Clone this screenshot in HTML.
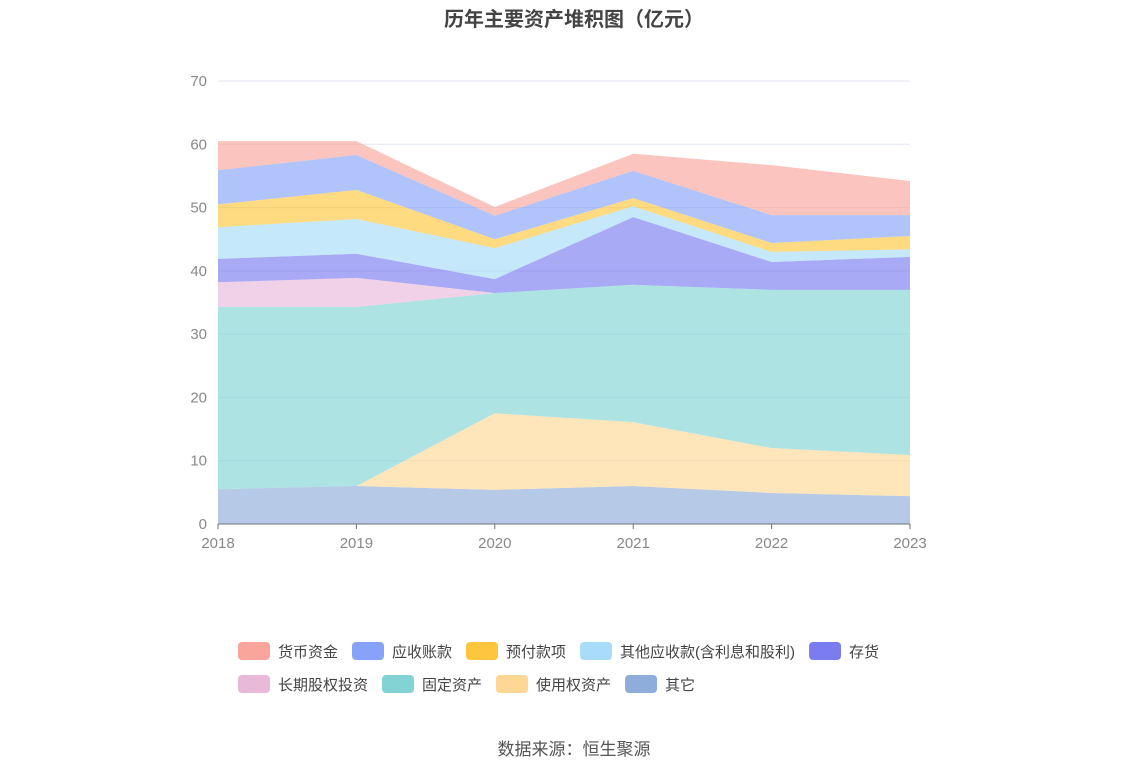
<!DOCTYPE html>
<html><head><meta charset="utf-8"><style>
body{margin:0;background:#fff;font-family:"Liberation Sans","Noto Sans CJK SC",sans-serif;}
</style></head><body>
<svg width="1148" height="776" id="svg" style="display:block">
<text x="574" y="26" text-anchor="middle" font-size="20" font-weight="bold" fill="#444" font-family="Liberation Sans, Noto Sans CJK SC, sans-serif">历年主要资产堆积图（亿元）</text>
<g id="grid"></g><g id="areas"></g><g id="axes"></g><g id="legend"></g>
<text x="574" y="755" text-anchor="middle" font-size="17" fill="#555" font-family="Liberation Sans, Noto Sans CJK SC, sans-serif">数据来源：恒生聚源</text>
</svg>
<script>
const years=["2018","2019","2020","2021","2022","2023"];
const yTicks=[0,10,20,30,40,50,60,70];
const seriesNames=["其它","使用权资产","固定资产","长期股权投资","存货","其他应收款(含利息和股利)","预付款项","应收账款","货币资金"];
const other=[5.5,6.0,5.4,6.0,4.9,4.4];
const rightOfUse=[0,0,12.1,10.1,7.1,6.5];
const fixedAssets=[28.8,28.3,19.0,21.7,25.0,26.1];
const longEquity=[3.9,4.6,0,0,0,0];
const inventory=[3.7,3.8,2.2,10.7,4.4,5.2];
const otherRecv=[5.0,5.5,4.9,1.7,1.6,1.2];
const prepay=[3.6,4.6,1.4,1.3,1.4,2.1];
const recv=[5.4,5.5,3.7,4.3,4.4,3.3];
const cash=[4.6,2.2,1.4,2.7,7.9,5.4];
const seriesVals=[other,rightOfUse,fixedAssets,longEquity,inventory,otherRecv,prepay,recv,cash];
const colors=["#8fadda","#fed795","#82d4d4","#e9b9da","#7b7cf0","#a8dcf9","#fec63e","#87a3f9","#f9a59b"];
const slugs=["other","right-of-use","fixed-assets","long-equity","inventory","other-receivables","prepayments","receivables","cash"];
const NS="http://www.w3.org/2000/svg";
const x0=218,x1=910,yb=524,yt=81,ymax=70;
const X=i=>x0+(x1-x0)*i/(years.length-1);
const Y=v=>yb-(yb-yt)*v/ymax;
function mk(t,a,p){const e=document.createElementNS(NS,t);for(const k in a)e.setAttribute(k,a[k]);p.appendChild(e);return e;}
const grid=document.getElementById('grid'),axes=document.getElementById('axes'),areas=document.getElementById('areas'),leg=document.getElementById('legend');
yTicks.forEach(t=>{
 if(t>0){const l=mk('line',{x1:x0,x2:x1,y1:Y(t),y2:Y(t),stroke:'#e0e6f1'},grid);
 }
 const tx=mk('text',{x:207,y:Y(t)+5,'text-anchor':'end','font-size':15,fill:'#888'},axes);tx.textContent=t;
 
});
let base=years.map(()=>0);
seriesVals.forEach((vals,s)=>{
 const top=base.map((b,i)=>b+vals[i]);
 let d='M'+top.map((v,i)=>X(i)+','+Y(v)).join('L');
 for(let i=years.length-1;i>=0;i--)d+='L'+X(i)+','+Y(base[i]);
 const p=mk('path',{d:d+'Z',fill:colors[s],'fill-opacity':0.65,stroke:'none'},areas);
 
 base=top;
});
const ax=mk('line',{x1:x0,x2:x1,y1:yb,y2:yb,stroke:'#6e7079'},axes);

years.forEach((y,i)=>{
 mk('line',{x1:X(i),x2:X(i),y1:yb,y2:yb+5,stroke:'#6e7079'},axes);
 const t=mk('text',{x:X(i),y:yb+24,'text-anchor':'middle','font-size':15,fill:'#888'},axes);t.textContent=y;
 
});
// legend
const order=[8,7,6,5,4,3,2,1,0];
const rows=[[8,7,6,5,4],[3,2,1,0]];
rows.forEach((r,ri)=>{
 let x=238;const y=ri?684:651;
 r.forEach(s=>{
  const g=mk('g',{},leg);
  mk('rect',{x:x,y:y-9,width:32,height:18,rx:4,fill:colors[s]},g);
  const t=mk('text',{x:x+40,y:y+6,'font-size':15,fill:'#444'},g);t.textContent=seriesNames[s];
  x+=40+t.getComputedTextLength()+14;
 });
});
</script>
</body></html>
